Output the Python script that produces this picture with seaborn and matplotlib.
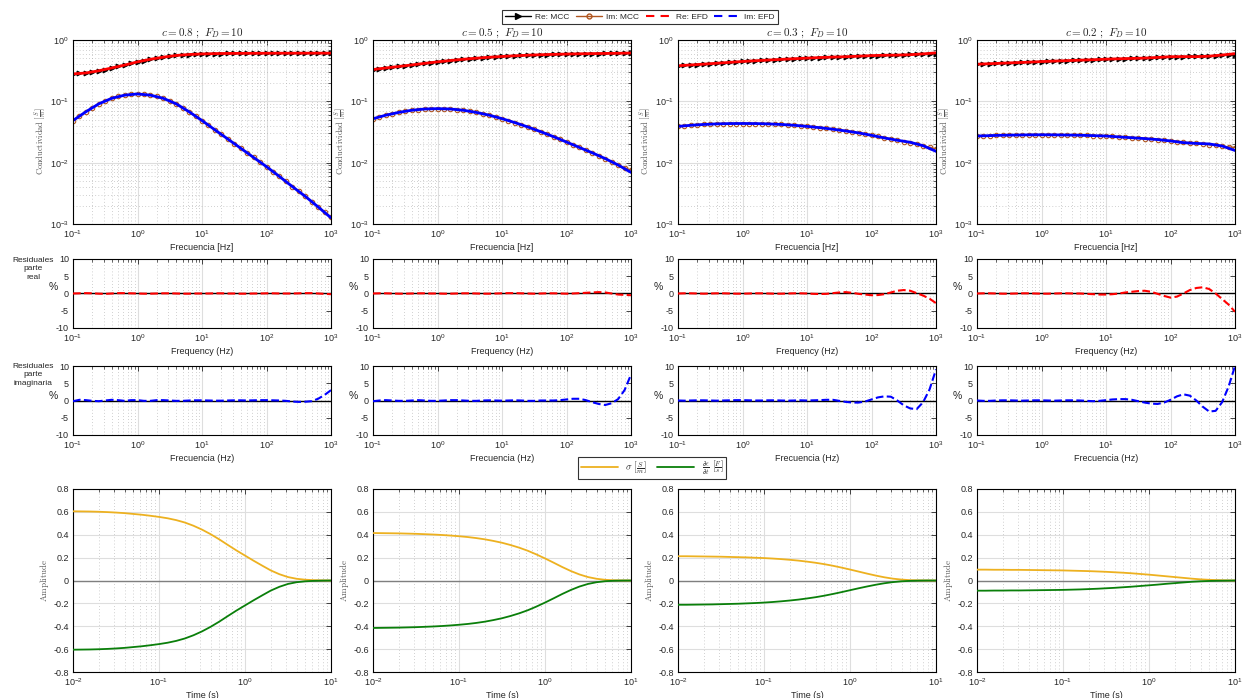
import numpy as np
import pandas as pd
import matplotlib
matplotlib.use("Agg")
import matplotlib.pyplot as plt
import seaborn as sns
from matplotlib.lines import Line2D
from matplotlib.ticker import LogLocator, NullFormatter, FixedLocator

sns.set_theme(style="white")
plt.rcParams["font.family"] = ["Liberation Sans", "DejaVu Sans"]
plt.rcParams["mathtext.fontset"] = "cm"
plt.rcParams["axes.unicode_minus"] = False

# ---------------------------------------------------------------- data
c_values = [0.8, 0.5, 0.3, 0.2]
fd_value = 10

freq = np.logspace(-1, 3, 41)      # MCC samples (10 per decade)
freq_efd = np.logspace(-1, 3, 21)  # EFD samples (5 per decade)
time = np.logspace(-2, 1, 31)      # time axis of the step responses

re_mcc_c08 = [0.28, 0.285, 0.29, 0.30, 0.315, 0.33, 0.35, 0.37, 0.39, 0.415, 0.44, 0.46, 0.485, 0.505,
              0.525, 0.545, 0.56, 0.57, 0.58, 0.588, 0.593, 0.597, 0.60, 0.602, 0.604, 0.605, 0.606,
              0.607, 0.607, 0.608, 0.608, 0.609, 0.609, 0.609, 0.609, 0.61, 0.61, 0.61, 0.61, 0.61, 0.61]
im_mcc_c08 = [0.0486, 0.058, 0.0676, 0.079, 0.091, 0.102, 0.112, 0.120, 0.126, 0.130, 0.132, 0.130,
              0.126, 0.120, 0.112, 0.102, 0.091, 0.079, 0.0676, 0.058, 0.0486, 0.0407, 0.0343, 0.0288,
              0.0243, 0.0204, 0.0172, 0.01445, 0.01216, 0.01023, 0.0086, 0.00716, 0.00596, 0.00495,
              0.00407, 0.00339, 0.00282, 0.00232, 0.00191, 0.00158, 0.0013]
re_mcc_c05 = [0.33, 0.34, 0.35, 0.36, 0.37, 0.38, 0.392, 0.404, 0.416, 0.428, 0.44, 0.452, 0.463, 0.474,
              0.485, 0.495, 0.505, 0.514, 0.523, 0.531, 0.539, 0.546, 0.553, 0.559, 0.565, 0.57, 0.575,
              0.579, 0.583, 0.587, 0.59, 0.593, 0.596, 0.598, 0.60, 0.602, 0.604, 0.606, 0.607, 0.608, 0.61]
im_mcc_c05 = [0.052, 0.056, 0.0595, 0.063, 0.066, 0.069, 0.0715, 0.0735, 0.075, 0.0758, 0.076, 0.0758,
              0.075, 0.0735, 0.0715, 0.069, 0.066, 0.063, 0.0595, 0.056, 0.0522, 0.0485, 0.045, 0.0415,
              0.0382, 0.035, 0.032, 0.0292, 0.0265, 0.024, 0.0218, 0.0197, 0.0178, 0.016, 0.0144, 0.0129,
              0.0115, 0.0103, 0.0092, 0.0083, 0.0075]
re_mcc_c03 = [0.380, 0.386, 0.392, 0.398, 0.404, 0.411, 0.418, 0.425, 0.432, 0.439, 0.447, 0.453, 0.459,
              0.465, 0.471, 0.477, 0.483, 0.489, 0.495, 0.501, 0.507, 0.512, 0.517, 0.522, 0.527, 0.531,
              0.536, 0.540, 0.545, 0.549, 0.554, 0.558, 0.563, 0.567, 0.572, 0.576, 0.581, 0.585, 0.590,
              0.595, 0.600]
im_mcc_c03 = [0.039, 0.0399, 0.0407, 0.0414, 0.042, 0.0425, 0.0429, 0.0432, 0.0434, 0.0435, 0.0435,
              0.0435, 0.0434, 0.0432, 0.0429, 0.0425, 0.042, 0.0414, 0.0407, 0.0399, 0.039, 0.0382,
              0.0372, 0.0362, 0.0351, 0.034, 0.0328, 0.0316, 0.0304, 0.0292, 0.028, 0.0268, 0.0256,
              0.0244, 0.0232, 0.0221, 0.021, 0.0199, 0.0188, 0.0178, 0.0168]
re_mcc_c02 = [0.403, 0.407, 0.411, 0.415, 0.419, 0.423, 0.427, 0.431, 0.435, 0.440, 0.445, 0.449, 0.453,
              0.457, 0.461, 0.465, 0.469, 0.473, 0.477, 0.482, 0.486, 0.490, 0.494, 0.498, 0.503, 0.507,
              0.511, 0.515, 0.519, 0.524, 0.528, 0.532, 0.536, 0.540, 0.544, 0.548, 0.552, 0.556, 0.560,
              0.564, 0.568]
im_mcc_c02 = [0.0272, 0.0274, 0.0276, 0.0278, 0.028, 0.0281, 0.0282, 0.0283, 0.0284, 0.0285, 0.0285,
              0.0285, 0.0284, 0.0283, 0.0282, 0.0281, 0.028, 0.0278, 0.0276, 0.0274, 0.0272, 0.0268,
              0.0264, 0.026, 0.0256, 0.0251, 0.0246, 0.0241, 0.0236, 0.0231, 0.0226, 0.0221, 0.0216,
              0.0211, 0.0206, 0.0201, 0.0196, 0.0191, 0.0186, 0.0181, 0.0176]

re_efd_c08 = [0.28, 0.29, 0.315, 0.35, 0.39, 0.44, 0.485, 0.525, 0.56, 0.58, 0.593, 0.60, 0.604, 0.606,
              0.607, 0.608, 0.609, 0.609, 0.61, 0.61, 0.61]
im_efd_c08 = [0.0486, 0.0676, 0.091, 0.112, 0.126, 0.132, 0.126, 0.112, 0.091, 0.0676, 0.0486, 0.0343,
              0.0243, 0.0172, 0.01216, 0.0086, 0.00596, 0.00408, 0.00283, 0.0019, 0.00126]
re_efd_c05 = [0.33, 0.35, 0.37, 0.392, 0.416, 0.44, 0.463, 0.485, 0.505, 0.523, 0.539, 0.553, 0.565,
              0.575, 0.583, 0.59, 0.596, 0.60, 0.604, 0.607, 0.613]
im_efd_c05 = [0.052, 0.0595, 0.066, 0.0715, 0.075, 0.076, 0.075, 0.0715, 0.066, 0.0595, 0.0522, 0.045,
              0.0382, 0.032, 0.0265, 0.0217, 0.0177, 0.01447, 0.01165, 0.00916, 0.00694]
re_efd_c03 = [0.38, 0.392, 0.404, 0.418, 0.432, 0.447, 0.459, 0.471, 0.483, 0.495, 0.507, 0.517, 0.527,
              0.534, 0.545, 0.557, 0.564, 0.567, 0.576, 0.594, 0.617]
im_efd_c03 = [0.039, 0.0407, 0.042, 0.0429, 0.0434, 0.0435, 0.0434, 0.0429, 0.042, 0.0407, 0.039,
              0.0372, 0.0351, 0.0329, 0.0306, 0.0279, 0.0253, 0.0232, 0.0215, 0.0189, 0.0153]
re_efd_c02 = [0.403, 0.411, 0.419, 0.427, 0.435, 0.445, 0.453, 0.461, 0.469, 0.477, 0.487, 0.494,
              0.5005, 0.507, 0.5195, 0.534, 0.536, 0.535, 0.545, 0.569, 0.598]
im_efd_c02 = [0.0272, 0.0276, 0.028, 0.0282, 0.0284, 0.0285, 0.0284, 0.0282, 0.028, 0.0276, 0.0272,
              0.0263, 0.0255, 0.0247, 0.0238, 0.0226, 0.0212, 0.0206, 0.0202, 0.0187, 0.0158]

# residuals in percent
res_re_c08 = [0.0, 0.05, 0.1, 0.05, -0.05, -0.1, 0.0, 0.1, 0.1, 0.05, 0.0, -0.05, -0.05, 0.0, 0.05, 0.05,
              0.0, -0.05, -0.05, 0.0, 0.0, 0.0, 0.05, 0.05, 0.0, 0.0, -0.05, -0.05, 0.0, 0.0, 0.05, 0.05,
              0.0, 0.0, 0.0, 0.05, 0.1, 0.1, 0.0, -0.1, -0.2]
res_im_c08 = [-0.2, 0.2, 0.1, -0.1, -0.2, 0.0, 0.2, 0.1, -0.1, 0.1, 0.1, -0.1, -0.1, 0.1, 0.1, 0.0, -0.1,
              -0.1, 0.0, 0.05, 0.05, 0.0, -0.05, -0.05, 0.0, 0.05, 0.05, 0.0, 0.05, 0.1, 0.1, 0.05, 0.0,
              -0.1, -0.3, -0.4, -0.35, -0.2, 0.5, 1.6, 3.0]
res_re_c05 = [0.0, 0.05, 0.05, 0.0, -0.05, -0.05, 0.0, 0.05, 0.05, 0.0, 0.0, -0.05, -0.05, 0.0, 0.05,
              0.05, 0.0, -0.05, -0.05, 0.0, 0.05, 0.1, 0.1, 0.05, 0.0, -0.05, 0.0, 0.05, 0.05, 0.0, -0.05,
              0.0, 0.1, 0.2, 0.3, 0.4, 0.3, 0.0, -0.3, -0.4, -0.5]
res_im_c05 = [-0.2, 0.0, 0.1, 0.0, -0.1, -0.1, 0.0, 0.1, 0.0, -0.1, -0.1, 0.0, 0.1, 0.1, 0.0, -0.1, -0.1,
              0.0, 0.05, 0.0, -0.05, 0.0, 0.05, 0.0, -0.1, -0.1, 0.0, 0.0, 0.0, 0.1, 0.3, 0.5, 0.5, 0.1,
              -0.5, -1.0, -1.3, -0.8, 0.4, 3.0, 7.5]
res_re_c03 = [0.0, 0.05, 0.05, 0.0, -0.05, 0.0, 0.05, 0.05, 0.0, -0.05, -0.05, 0.0, 0.05, 0.05, 0.0,
              -0.05, -0.05, 0.0, 0.05, 0.05, 0.0, -0.1, -0.15, -0.1, 0.1, 0.3, 0.4, 0.2, -0.1, -0.3, -0.5,
              -0.45, -0.2, 0.3, 0.8, 1.0, 0.8, 0.1, -0.6, -1.5, -2.8]
res_im_c03 = [0.0, -0.05, 0.0, 0.05, 0.05, 0.0, -0.05, 0.0, 0.05, 0.1, 0.1, 0.05, 0.0, 0.0, 0.05, 0.05,
              0.0, -0.05, 0.0, 0.05, 0.0, 0.05, 0.1, 0.2, 0.2, -0.1, -0.4, -0.6, -0.6, -0.3, 0.3, 0.9, 1.2,
              1.1, 0.0, -1.4, -2.3, -2.5, -0.5, 3.2, 9.0]
res_re_c02 = [0.0, 0.05, 0.05, 0.0, -0.05, -0.05, 0.0, 0.05, 0.05, 0.0, -0.05, -0.05, 0.0, 0.05, 0.05,
              0.0, 0.0, -0.1, -0.2, -0.3, -0.3, -0.2, 0.0, 0.3, 0.5, 0.7, 0.8, 0.5, -0.1, -0.7, -1.2,
              -0.9, 0.0, 1.0, 1.6, 1.8, 1.3, 0.0, -1.6, -3.2, -5.3]
res_im_c02 = [0.0, -0.1, -0.1, 0.0, 0.05, 0.05, 0.0, -0.05, 0.0, 0.05, 0.05, 0.0, -0.05, 0.0, 0.05, 0.05,
              0.0, -0.1, -0.2, -0.1, 0.1, 0.3, 0.4, 0.4, 0.2, -0.2, -0.6, -0.9, -1.0, -0.6, 0.2, 1.2, 1.8,
              1.4, 0.0, -1.8, -3.2, -3.0, -0.5, 4.0, 10.0]

# time-domain responses
sigma_c08 = [0.605, 0.604, 0.603, 0.601, 0.598, 0.594, 0.589, 0.582, 0.575, 0.566, 0.556, 0.544, 0.528,
             0.507, 0.479, 0.445, 0.405, 0.360, 0.311, 0.263, 0.218, 0.173, 0.130, 0.088, 0.055, 0.030,
             0.015, 0.007, 0.003, 0.001, 0.0]
deps_c08 = [-0.605, -0.604, -0.603, -0.601, -0.598, -0.594, -0.589, -0.582, -0.575, -0.566, -0.556,
            -0.544, -0.528, -0.507, -0.479, -0.445, -0.405, -0.360, -0.311, -0.263, -0.218, -0.173,
            -0.130, -0.088, -0.055, -0.030, -0.015, -0.007, -0.003, -0.001, 0.0]
sigma_c05 = [0.415, 0.414, 0.413, 0.412, 0.410, 0.408, 0.405, 0.402, 0.398, 0.393, 0.387, 0.380, 0.371,
             0.360, 0.346, 0.330, 0.310, 0.287, 0.260, 0.228, 0.193, 0.156, 0.118, 0.083, 0.053, 0.030,
             0.015, 0.006, 0.002, 0.0005, 0.0]
deps_c05 = [-0.415, -0.414, -0.413, -0.412, -0.410, -0.408, -0.405, -0.402, -0.398, -0.393, -0.387,
            -0.380, -0.371, -0.360, -0.346, -0.330, -0.310, -0.287, -0.260, -0.228, -0.193, -0.156,
            -0.118, -0.083, -0.053, -0.030, -0.015, -0.006, -0.002, -0.0005, 0.0]
sigma_c03 = [0.212, 0.212, 0.211, 0.210, 0.209, 0.208, 0.206, 0.204, 0.202, 0.199, 0.196, 0.192, 0.187,
             0.181, 0.174, 0.165, 0.155, 0.143, 0.129, 0.113, 0.096, 0.078, 0.060, 0.043, 0.028, 0.016,
             0.008, 0.003, 0.001, 0.0, 0.0]
deps_c03 = [-0.212, -0.212, -0.211, -0.210, -0.209, -0.207, -0.205, -0.203, -0.200, -0.197, -0.193,
            -0.188, -0.182, -0.175, -0.167, -0.157, -0.146, -0.133, -0.118, -0.102, -0.085, -0.068,
            -0.052, -0.037, -0.024, -0.014, -0.007, -0.003, -0.001, 0.0, 0.0]
sigma_c02 = [0.095, 0.095, 0.094, 0.094, 0.093, 0.093, 0.092, 0.091, 0.090, 0.089, 0.088, 0.086, 0.084,
             0.082, 0.079, 0.076, 0.072, 0.068, 0.063, 0.057, 0.051, 0.044, 0.037, 0.030, 0.023, 0.016,
             0.010, 0.006, 0.003, 0.001, 0.0]
deps_c02 = [-0.089, -0.089, -0.088, -0.088, -0.087, -0.087, -0.086, -0.085, -0.084, -0.083, -0.082,
            -0.080, -0.078, -0.075, -0.072, -0.068, -0.064, -0.059, -0.054, -0.048, -0.042, -0.036,
            -0.029, -0.023, -0.017, -0.011, -0.007, -0.004, -0.002, -0.001, 0.0]

re_mcc = [re_mcc_c08, re_mcc_c05, re_mcc_c03, re_mcc_c02]
im_mcc = [im_mcc_c08, im_mcc_c05, im_mcc_c03, im_mcc_c02]
re_efd = [re_efd_c08, re_efd_c05, re_efd_c03, re_efd_c02]
im_efd = [im_efd_c08, im_efd_c05, im_efd_c03, im_efd_c02]
res_re = [res_re_c08, res_re_c05, res_re_c03, res_re_c02]
res_im = [res_im_c08, res_im_c05, res_im_c03, res_im_c02]
sigma_t = [sigma_c08, sigma_c05, sigma_c03, sigma_c02]
deps_t = [deps_c08, deps_c05, deps_c03, deps_c02]

# ---------------------------------------------------------------- style
INK = "#262626"
C_RE_MCC = "black"
C_IM_MCC = "#B0561F"
C_RE_EFD = "#FF0000"
C_IM_EFD = "#0000FF"
C_SIGMA = "#EDB120"
C_DEPS = "#0A7F0A"

W, H = 1243, 698
fig = plt.figure(figsize=(W / 100, H / 100), dpi=100)

col_left = [73, 373, 678, 977]
col_width = 258
rows = {"top": (40, 224), "res_re": (259, 328), "res_im": (366, 435), "time": (489, 672)}


def make_axes(col, row):
    y0, y1 = rows[row]
    return fig.add_axes([col_left[col] / W, 1 - y1 / H, col_width / W, (y1 - y0) / H])


def frame(ax):
    ax.set_facecolor("white")
    for s in ax.spines.values():
        s.set_visible(True)
        s.set_color("black")
        s.set_linewidth(0.8)
    ax.tick_params(which="both", direction="in", top=True, right=True, colors=INK,
                   labelsize=6.5, pad=3)
    ax.tick_params(which="major", length=3.5, width=0.6)
    ax.tick_params(which="minor", length=2, width=0.5)
    ax.set_axisbelow(True)


def log_minor(axis):
    axis.set_major_locator(LogLocator(base=10, numticks=20))
    axis.set_minor_locator(LogLocator(base=10, subs=np.arange(2, 10), numticks=200))
    axis.set_minor_formatter(NullFormatter())


def grids(ax, axis="both"):
    ax.grid(True, which="major", axis=axis, color="#dedede", linewidth=0.8, linestyle="-")
    ax.grid(True, which="minor", axis=axis, color="#a6a6a6", linewidth=0.5, linestyle=(0, (1, 3.5)))


for i, c in enumerate(c_values):
    # --- conductivity spectra
    ax = make_axes(i, "top")
    ax.set_xscale("log")
    ax.set_yscale("log")
    sns.lineplot(x=freq, y=re_mcc[i], ax=ax, color=C_RE_MCC, linewidth=1.0, marker=">",
                 markersize=3.5, markeredgecolor=C_RE_MCC, markerfacecolor=C_RE_MCC, legend=False)
    sns.lineplot(x=freq, y=im_mcc[i], ax=ax, color=C_IM_MCC, linewidth=1.0, marker="o",
                 markersize=3.2, markeredgecolor=C_IM_MCC, markerfacecolor="none",
                 markeredgewidth=0.8, legend=False)
    sns.lineplot(x=freq_efd, y=re_efd[i], ax=ax, color=C_RE_EFD, linewidth=2.0, legend=False)
    sns.lineplot(x=freq_efd, y=im_efd[i], ax=ax, color=C_IM_EFD, linewidth=2.0, legend=False)
    ax.set_xlim(1e-1, 1e3)
    ax.set_ylim(1e-3, 1e0)
    log_minor(ax.xaxis)
    log_minor(ax.yaxis)
    frame(ax)
    grids(ax)
    ax.set_title(rf"$c = {c}\ ;\ F_D = {fd_value}$", fontsize=8, color=INK, pad=3)
    ax.set_xlabel("Frecuencia [Hz]", fontsize=6.5, color=INK, labelpad=2)
    ax.set_ylabel(r"$\mathrm{Conductividad}\ \left[\frac{S}{m}\right]$", fontsize=6, color="#555555")
    ax.yaxis.set_label_coords(-0.095, 0.45)

    # --- residuals, real part
    ax = make_axes(i, "res_re")
    ax.set_xscale("log")
    ax.axhline(0, color="black", linewidth=1.0, zorder=2)
    sns.lineplot(x=freq, y=res_re[i], ax=ax, color=C_RE_EFD, linewidth=1.5, linestyle="--",
                 legend=False, zorder=3)
    ax.set_xlim(1e-1, 1e3)
    ax.set_ylim(-10, 10)
    ax.yaxis.set_major_locator(FixedLocator([-10, -5, 0, 5, 10]))
    log_minor(ax.xaxis)
    frame(ax)
    grids(ax, axis="x")
    ax.set_xlabel("Frequency (Hz)", fontsize=6.5, color=INK, labelpad=2)
    ax.set_ylabel("")
    ax.text(-0.077, 0.59, "%", transform=ax.transAxes, fontsize=7.5, color=INK, ha="center", va="center")

    # --- residuals, imaginary part
    ax = make_axes(i, "res_im")
    ax.set_xscale("log")
    ax.axhline(0, color="black", linewidth=1.0, zorder=2)
    sns.lineplot(x=freq, y=res_im[i], ax=ax, color=C_IM_EFD, linewidth=1.5, linestyle="--",
                 legend=False, zorder=3)
    ax.set_xlim(1e-1, 1e3)
    ax.set_ylim(-10, 10)
    ax.yaxis.set_major_locator(FixedLocator([-10, -5, 0, 5, 10]))
    log_minor(ax.xaxis)
    frame(ax)
    grids(ax, axis="x")
    ax.set_xlabel("Frecuencia (Hz)", fontsize=6.5, color=INK, labelpad=2)
    ax.set_ylabel("")
    ax.text(-0.077, 0.565, "%", transform=ax.transAxes, fontsize=7.5, color=INK, ha="center", va="center")

    # --- time-domain responses
    ax = make_axes(i, "time")
    ax.set_xscale("log")
    ax.axhline(0, color="#7f7f7f", linewidth=1.0, zorder=2)
    sns.lineplot(x=time, y=sigma_t[i], ax=ax, color=C_SIGMA, linewidth=1.3, legend=False, zorder=3)
    sns.lineplot(x=time, y=deps_t[i], ax=ax, color=C_DEPS, linewidth=1.3, legend=False, zorder=3)
    ax.set_xlim(1e-2, 1e1)
    ax.set_ylim(-0.8, 0.8)
    ax.yaxis.set_major_locator(FixedLocator(np.round(np.arange(-0.8, 0.81, 0.2), 1)))
    ax.set_yticklabels(["-0.8", "-0.6", "-0.4", "-0.2", "0", "0.2", "0.4", "0.6", "0.8"])
    log_minor(ax.xaxis)
    frame(ax)
    grids(ax)
    ax.set_xlabel("Time (s)", fontsize=6.5, color=INK, labelpad=2)
    ax.set_ylabel(r"$\mathrm{Amplitude}$", fontsize=6.5, color="#555555")
    ax.yaxis.set_label_coords(-0.085, 0.5)

# row captions on the left
fig.text(33 / W, 1 - 269 / H, "Residuales\nparte\nreal", ha="center", va="center", fontsize=6,
         color=INK, linespacing=1.35)
fig.text(33 / W, 1 - 375 / H, "Residuales\nparte\nimaginaria", ha="center", va="center", fontsize=6,
         color=INK, linespacing=1.35)

# legends
top_handles = [
    Line2D([], [], color=C_RE_MCC, linewidth=1.0, marker=">", markersize=4, markerfacecolor=C_RE_MCC,
           markevery=[1]),
    Line2D([], [], color=C_IM_MCC, linewidth=1.0, marker="o", markersize=3.5, markerfacecolor="none",
           markevery=[1]),
    Line2D([], [], color=C_RE_EFD, linewidth=1.5, linestyle=(0, (4, 3))),
    Line2D([], [], color=C_IM_EFD, linewidth=1.5, linestyle=(0, (4, 3))),
]
leg = fig.legend(top_handles, ["Re: MCC", "Im: MCC", "Re: EFD", "Im: EFD"], loc="center",
                 bbox_to_anchor=(640 / W, 1 - 17 / H), ncol=4, fontsize=6, frameon=True,
                 fancybox=False, edgecolor="black", handlelength=3.1, columnspacing=0.8,
                 borderpad=0.35, handletextpad=0.5)
leg.get_frame().set_linewidth(0.8)

bot_handles = [Line2D([], [], color=C_SIGMA, linewidth=1.3), Line2D([], [], color=C_DEPS, linewidth=1.3)]
leg2 = fig.legend(bot_handles, [r"$\sigma\ \left[\frac{S}{m}\right]$",
                                r"$\frac{\partial\epsilon}{\partial t}\ \left[\frac{F}{s}\right]$"],
                  loc="center", bbox_to_anchor=(652 / W, 1 - 468 / H), ncol=2, fontsize=7,
                  frameon=True, fancybox=False, edgecolor="black", handlelength=3.8,
                  columnspacing=1.0, borderpad=0.25, handletextpad=0.8)
leg2.get_frame().set_linewidth(0.8)

fig.savefig("out.png", dpi=100, facecolor="white")
